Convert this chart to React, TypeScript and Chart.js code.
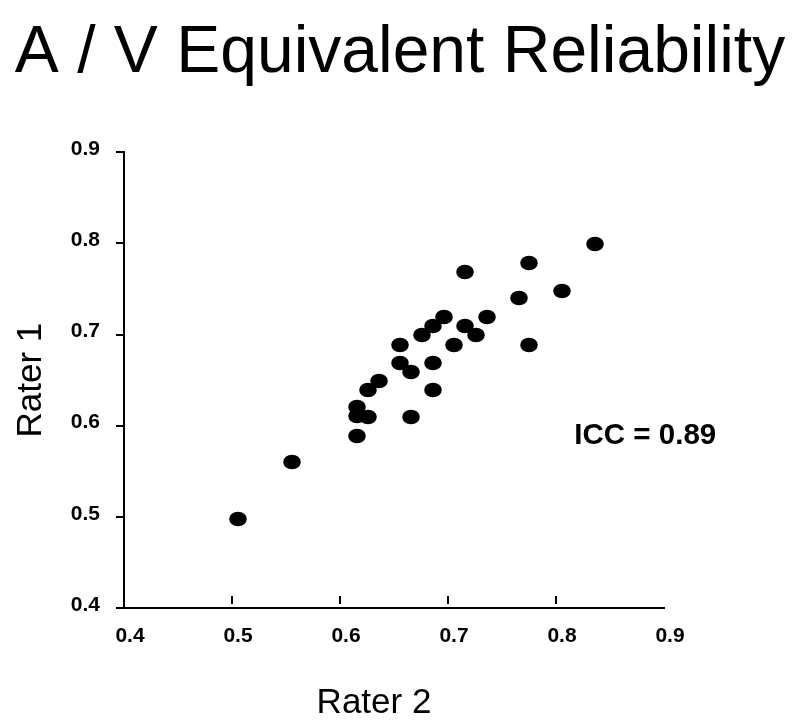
import React, { useEffect, useRef } from 'react';
import { Chart, registerables } from 'chart.js';

Chart.register(...registerables);

const chartTitle = 'A / V Equivalent Reliability';
const xAxisTitle = 'Rater 2';
const yAxisTitle = 'Rater 1';
const annotationText = 'ICC = 0.89';
const annotationAt = [0.817, 0.589];

// Rater 2 (x) and Rater 1 (y)
const rater2 = [0.506, 0.556, 0.616, 0.616, 0.616, 0.626, 0.626, 0.636, 0.656, 0.656, 0.666, 0.666, 0.676, 0.686, 0.686, 0.686, 0.696, 0.706, 0.716, 0.716, 0.726, 0.736, 0.766, 0.775, 0.775, 0.806, 0.836];
const rater1 = [0.498, 0.560, 0.589, 0.611, 0.621, 0.610, 0.639, 0.649, 0.669, 0.689, 0.659, 0.610, 0.699, 0.709, 0.669, 0.639, 0.719, 0.689, 0.709, 0.769, 0.699, 0.719, 0.740, 0.779, 0.689, 0.748, 0.799];

const tickValues = [0.4, 0.5, 0.6, 0.7, 0.8, 0.9];
const tickLabels = ['0.4', '0.5', '0.6', '0.7', '0.8', '0.9'];
const innerXTicks = [0.5, 0.6, 0.7, 0.8];

const FONT = "'Liberation Sans', Arial, Helvetica, sans-serif";

export default function App() {
  const ref = useRef<HTMLCanvasElement>(null);

  useEffect(() => {
    document.body.style.margin = '0';
    const canvas = ref.current;
    if (!canvas) return;

    const dot = document.createElement('canvas');
    dot.width = 18;
    dot.height = 16;
    const dctx = dot.getContext('2d')!;
    dctx.fillStyle = '#000';
    dctx.beginPath();
    dctx.ellipse(9, 8, 8.8, 7.3, 0, 0, Math.PI * 2);
    dctx.fill();

    const extras = {
      id: 'extras',
      beforeDatasetsDraw(chart: any) {
        chart.ctx.save();
        chart.ctx.imageSmoothingEnabled = false;
      },
      afterDatasetsDraw(chart: any) {
        chart.ctx.restore();
      },
      afterDraw(chart: any) {
        const { ctx, chartArea, scales } = chart;
        const xs = scales.x;
        const ys = scales.y;
        ctx.save();
        ctx.strokeStyle = '#000';
        ctx.lineWidth = 2;
        innerXTicks.forEach((v) => {
          const px = Math.round(xs.getPixelForValue(v));
          ctx.beginPath();
          ctx.moveTo(px, chartArea.bottom - 12);
          ctx.lineTo(px, chartArea.bottom - 4);
          ctx.stroke();
        });
        ctx.fillStyle = '#000';
        ctx.font = `bold 29.5px ${FONT}`;
        ctx.textAlign = 'left';
        ctx.textBaseline = 'middle';
        ctx.fillText(annotationText, xs.getPixelForValue(annotationAt[0]), ys.getPixelForValue(annotationAt[1]));
        ctx.font = `35px ${FONT}`;
        ctx.textAlign = 'center';
        ctx.textBaseline = 'alphabetic';
        ctx.fillText(xAxisTitle, (chartArea.left + chartArea.right) / 2 - 20, chart.height - 12);
        ctx.restore();
      },
    };

    const setTicks = (s: any) => {
      s.ticks = tickValues.map((v) => ({ value: v }));
    };

    const chart = new Chart(canvas, {
      type: 'scatter',
      data: {
        datasets: [
          {
            label: 'Ratings',
            data: rater2.map((x, i) => ({ x, y: rater1[i] })),
            pointStyle: dot as any,
            pointRadius: 8,
            backgroundColor: '#000',
            borderColor: '#000',
          },
        ],
      },
      options: {
        animation: false,
        responsive: false,
        layout: { padding: 0 },
        plugins: {
          legend: { display: false },
          tooltip: { enabled: false },
          title: {
            display: true,
            text: chartTitle,
            color: '#000',
            font: { family: FONT, size: 66, weight: 'normal' },
            padding: { top: 14, bottom: 59 },
          },
        },
        scales: {
          x: {
            type: 'linear',
            position: 'bottom',
            min: 0.4,
            max: 0.9,
            afterBuildTicks: setTicks,
            afterFit: (s: any) => {
              s.height = 117;
            },
            grid: { display: false, drawTicks: false },
            border: { display: true, color: '#000', width: 2 },
            ticks: {
              color: '#000',
              padding: 16,
              labelOffset: 6,
              font: { family: FONT, size: 21, weight: 'bold' },
              callback: (_v: any, i: number) => tickLabels[i],
            },
            title: { display: false },
          },
          y: {
            type: 'linear',
            position: 'left',
            min: 0.4,
            max: 0.9,
            afterBuildTicks: setTicks,
            afterFit: (s: any) => {
              s.width = 124;
            },
            grid: {
              display: true,
              drawOnChartArea: false,
              drawTicks: true,
              tickLength: 8,
              color: '#000',
              lineWidth: 2,
            },
            border: { display: true, color: '#000', width: 2 },
            ticks: {
              color: '#000',
              padding: 16,
              labelOffset: -3,
              font: { family: FONT, size: 21, weight: 'bold' },
              callback: (_v: any, i: number) => tickLabels[i],
            },
            title: {
              display: true,
              text: yAxisTitle,
              color: '#000',
              font: { family: FONT, size: 35, weight: 'normal' },
              padding: { top: 10, bottom: 0 },
            },
          },
          yRight: {
            type: 'linear',
            position: 'right',
            display: true,
            afterFit: (s: any) => {
              s.width = 136;
            },
            grid: { display: false, drawTicks: false },
            border: { display: false },
            ticks: { display: false },
          },
        },
      },
      plugins: [extras],
    });

    return () => chart.destroy();
  }, []);

  return (
    <div style={{ width: 800, height: 725 }}>
      <canvas ref={ref} width={800} height={725} style={{ width: 800, height: 725, display: 'block' }} />
    </div>
  );
}
